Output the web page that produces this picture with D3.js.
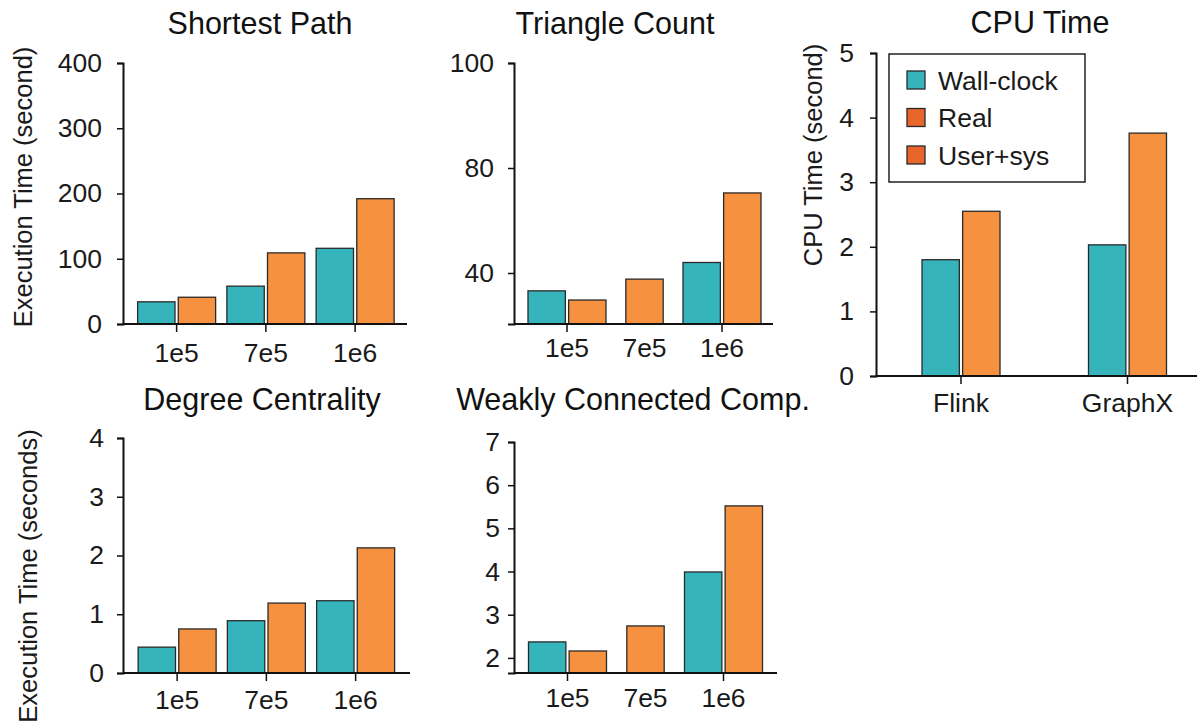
<!DOCTYPE html>
<html>
<head>
<meta charset="utf-8">
<script src="https://cdn.jsdelivr.net/npm/d3@7"></script>
<style>
  body { margin: 0; background: #fff; }
  svg { display: block; font-family: "Liberation Sans", Arial, sans-serif; }
</style>
</head>
<body>
<div id="chart"></div>
<script>
// categories
var sizes = ["1e5", "7e5", "1e6"];
var systems = ["Flink", "GraphX"];
var legendLabels = ["Wall-clock", "Real", "User+sys"];

// series values (null = no bar)
var spWall = [34, 58, 116];
var spUser = [41, 109, 192];
var tcWall = [33, null, 44];
var tcUser = [29.4, 37.6, 70.5];
var cpuWall = [1.80, 2.03];
var cpuUser = [2.55, 3.76];
var dcWall = [0.44, 0.89, 1.23];
var dcUser = [0.75, 1.19, 2.13];
var wccWall = [2.37, null, 3.99];
var wccUser = [2.16, 2.74, 5.52];

// tick labels
var spTicks = [0, 100, 200, 300, 400];
var tcTicks = [40, 80, 100];
var cpuTicks = [0, 1, 2, 3, 4, 5];
var dcTicks = [0, 1, 2, 3, 4];
var wccTicks = [2, 3, 4, 5, 6, 7];

var colors = { wall: "#36b4bc", user: "#f5913f", legendOrange: "#e8652b" };

var W = 1197, H = 723;
var svg = d3.select("#chart").append("svg")
    .attr("width", W)
    .attr("height", H);

var panels = [
  { title: "Shortest Path", tx: 260, ty: 34, cats: sizes, wall: spWall, user: spUser,
    yDomain: [0, 400], yRange: [324, 63], ticks: spTicks,
    ax: 123, axEnd: 407, band: [132, 399.75], yPad: 15, xPad: 11,
    label: "Execution Time (second)", lx: 32, ly: 187 },
  { title: "Triangle Count", tx: 615, ty: 34, cats: sizes, wall: tcWall, user: tcUser,
    // axis in the picture is not evenly spaced, so a piecewise scale
    yDomain: [20, 40, 80, 100], yRange: [324, 273, 168, 63], ticks: tcTicks,
    ax: 514, axEnd: 773, band: [528.25, 760.75], yPad: 14, xPad: 6 },
  { title: "CPU Time", tx: 1040, ty: 33, cats: systems, wall: cpuWall, user: cpuUser,
    yDomain: [0, 5], yRange: [376, 53], ticks: cpuTicks,
    ax: 876, axEnd: 1200, band: [877.75, 1210.75], yPad: 16, xPad: 9,
    label: "CPU Time (second)", lx: 822, ly: 155, legend: true },
  { title: "Degree Centrality", tx: 262, ty: 410, cats: sizes, wall: dcWall, user: dcUser,
    yDomain: [0, 4], yRange: [673, 438], ticks: dcTicks,
    ax: 123, axEnd: 410, band: [132.5, 400.25], yPad: 13, xPad: 9,
    label: "Execution Time (seconds)", lx: 37, ly: 576 },
  { title: "Weakly Connected Comp.", tx: 633, ty: 410, cats: sizes, wall: wccWall, user: wccUser,
    yDomain: [1.65, 7], yRange: [673, 442], ticks: wccTicks,
    ax: 514, axEnd: 777, band: [528.5, 762.5], yPad: 8, xPad: 7 }
];

panels.forEach(drawPanel);

function drawPanel(p) {
    var g = svg.append("g");

    var y = d3.scaleLinear().domain(p.yDomain).range(p.yRange);
    var x = d3.scaleBand().domain(p.cats).range(p.band).paddingInner(0).paddingOuter(0);
    var sub = d3.scaleBand().domain(["wall", "user"]).range([-39, 39]).paddingInner(0.08);
    var base = p.yRange[0];

    // bars
    var groups = g.selectAll("g.grp")
        .data(p.cats.map(function(c, i) {
            return { cat: c, bars: [
                { key: "wall", value: p.wall[i] },
                { key: "user", value: p.user[i] }
            ].filter(function(b) { return b.value != null; }) };
        }))
        .enter().append("g")
        .attr("class", "grp")
        .attr("transform", function(d) {
            return "translate(" + (x(d.cat) + x.bandwidth() / 2) + ",0)";
        });

    groups.selectAll("rect")
        .data(function(d) { return d.bars.map(function(b) { b.alone = d.bars.length == 1; return b; }); })
        .enter().append("rect")
        .attr("x", function(d) { return d.alone ? -sub.bandwidth() / 2 : sub(d.key); })
        .attr("y", function(d) { return y(d.value); })
        .attr("width", sub.bandwidth())
        .attr("height", function(d) { return base - y(d.value); })
        .attr("fill", function(d) { return colors[d.key]; })
        .attr("stroke", "#2a2a2a")
        .attr("stroke-width", 1.3);

    // y axis
    var yAxis = d3.axisLeft(y).tickValues(p.ticks).tickSize(6).tickPadding(p.yPad).tickFormat(d3.format("d"));
    var ya = g.append("g")
        .attr("transform", "translate(" + p.ax + ",0)")
        .call(yAxis);
    ya.select(".domain").attr("stroke", "#111").attr("stroke-width", 2);
    ya.selectAll(".tick line").attr("stroke", "#111").attr("stroke-width", 1.5);
    ya.selectAll("text").style("font-size", "26.5px").attr("fill", "#1a1a1a");

    // x axis
    var xAxis = d3.axisBottom(x).tickSize(8).tickPadding(p.xPad).tickSizeOuter(0);
    var xa = g.append("g")
        .attr("transform", "translate(0," + base + ")")
        .call(xAxis);
    xa.select(".domain").remove();
    xa.append("line")
        .attr("x1", p.ax).attr("x2", p.axEnd)
        .attr("stroke", "#111").attr("stroke-width", 2);
    xa.selectAll(".tick line")
        .attr("stroke", "#111").attr("stroke-width", 1.5)
        .attr("display", function(d, i) { return p.wall[i] == null ? "none" : null; });
    xa.selectAll("text").style("font-size", "26.5px").attr("fill", "#1a1a1a");

    // title
    g.append("text")
        .attr("x", p.tx).attr("y", p.ty)
        .attr("text-anchor", "middle")
        .style("font-size", "30.5px")
        .attr("fill", "#111")
        .text(p.title);

    if (p.label) {
        g.append("text")
            .attr("transform", "translate(" + p.lx + "," + p.ly + ") rotate(-90)")
            .attr("text-anchor", "middle")
            .style("font-size", "25.5px")
            .attr("fill", "#1a1a1a")
            .text(p.label);
    }

    if (p.legend) {
        var lg = g.append("g").attr("transform", "translate(889,54)");
        lg.append("rect")
            .attr("width", 196).attr("height", 128)
            .attr("fill", "#fff").attr("stroke", "#222").attr("stroke-width", 1.5);
        var swatch = [colors.wall, colors.legendOrange, colors.legendOrange];
        var item = lg.selectAll("g.item")
            .data(legendLabels)
            .enter().append("g")
            .attr("class", "item")
            .attr("transform", function(d, i) { return "translate(18," + (26 + i * 37.5) + ")"; });
        item.append("rect")
            .attr("y", -9).attr("width", 18).attr("height", 18)
            .attr("fill", function(d, i) { return swatch[i]; })
            .attr("stroke", "#2a2a2a").attr("stroke-width", 1.3);
        item.append("text")
            .attr("x", 31).attr("dy", "0.36em")
            .style("font-size", "26.5px")
            .attr("fill", "#1a1a1a")
            .text(function(d) { return d; });
    }
}
</script>
</body>
</html>
